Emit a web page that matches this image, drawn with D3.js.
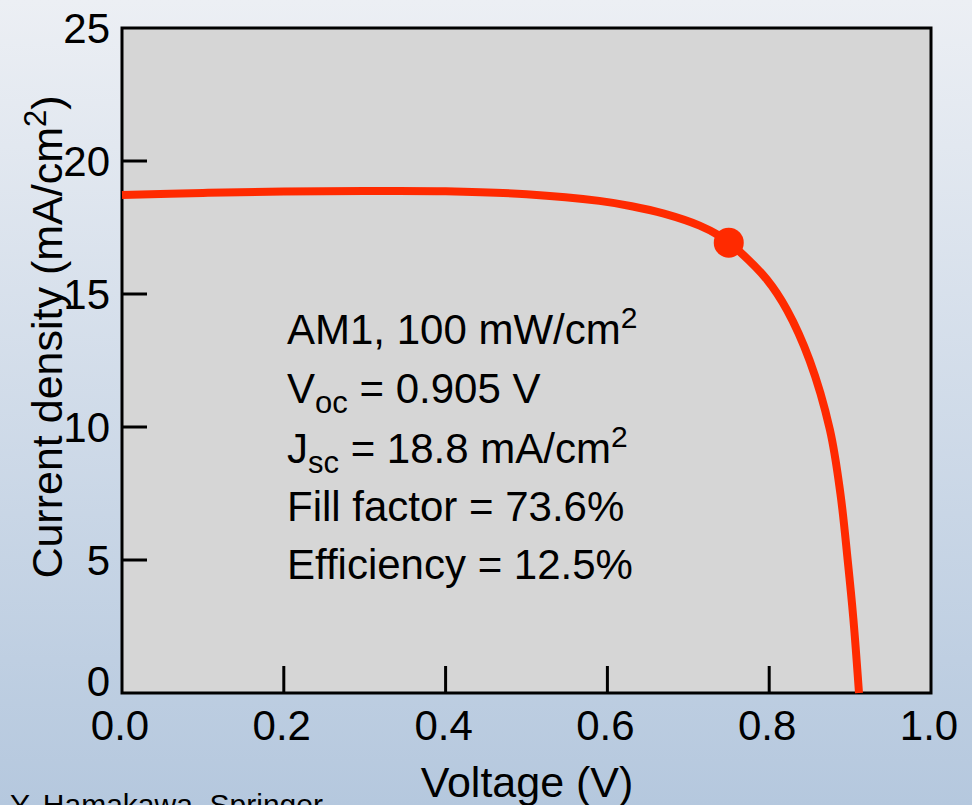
<!DOCTYPE html>
<html>
<head>
<meta charset="utf-8">
<script src="https://cdn.jsdelivr.net/npm/d3@7"></script>
<style>
  body { margin: 0; }
  svg { display: block; font-family: "Liberation Sans", Arial, sans-serif; }
</style>
</head>
<body>
<svg class="chart"></svg>
<script>
var W = 972;
var H = 805;

var LEFT = 122, RIGHT = 931, TOP = 28, BOTTOM = 693;

// J-V curve
var voltage = [0.00, 0.10, 0.20, 0.30, 0.40, 0.50, 0.59, 0.63, 0.67, 0.714, 0.739, 0.75, 0.764, 0.797, 0.822, 0.850, 0.875, 0.888, 0.897, 0.904, 0.911];
var current = [18.72, 18.80, 18.85, 18.87, 18.86, 18.75, 18.50, 18.30, 18.02, 17.57, 17.18, 16.93, 16.58, 15.55, 14.4, 12.5, 9.9, 7.5, 5.0, 2.8, 0];

// max power point
var mppV = [0.75];
var mppJ = [16.93];

var xTicks = [0, 0.2, 0.4, 0.6, 0.8, 1.0];
var yTicks = [0, 5, 10, 15, 20, 25];

var svg = d3.select(".chart").attr("width", W).attr("height", H);

var grad = svg.append("defs").append("linearGradient")
    .attr("id", "bg").attr("x1", 0).attr("y1", 0).attr("x2", 0).attr("y2", 1);
grad.append("stop").attr("offset", "0%").attr("stop-color", "#eceff4");
grad.append("stop").attr("offset", "100%").attr("stop-color", "#b5c8de");

svg.append("rect").attr("width", W).attr("height", H).attr("fill", "url(#bg)");

var x = d3.scaleLinear().domain([0, 1]).range([LEFT, RIGHT]);
var y = d3.scaleLinear().domain([0, 25]).range([BOTTOM, TOP]);

svg.append("rect")
    .attr("x", LEFT).attr("y", TOP)
    .attr("width", RIGHT - LEFT).attr("height", BOTTOM - TOP)
    .attr("fill", "#d6d6d6")
    .attr("stroke", "#000").attr("stroke-width", 3);

// inward ticks
svg.selectAll(".xt").data(xTicks.slice(1, -1)).enter().append("line")
    .attr("x1", function(d) { return x(d); }).attr("x2", function(d) { return x(d); })
    .attr("y1", BOTTOM).attr("y2", BOTTOM - 27)
    .attr("stroke", "#000").attr("stroke-width", 3);

svg.selectAll(".yt").data(yTicks.slice(1, -1)).enter().append("line")
    .attr("x1", LEFT).attr("x2", LEFT + 25)
    .attr("y1", function(d) { return y(d); }).attr("y2", function(d) { return y(d); })
    .attr("stroke", "#000").attr("stroke-width", 3);

svg.selectAll(".xl").data(xTicks).enter().append("text")
    .attr("x", function(d) { return x(d) - 2; })
    .attr("y", 740)
    .attr("text-anchor", "middle")
    .attr("font-size", 42)
    .text(function(d) { return d.toFixed(1); });

// the 0 label sits a bit higher in the original, clear of the 0.0
svg.selectAll(".yl").data(yTicks).enter().append("text")
    .attr("x", 110)
    .attr("y", function(d) { return y(d) + (d === 0 ? 3 : 15); })
    .attr("text-anchor", "end")
    .attr("font-size", 42)
    .text(function(d) { return d; });

var line = d3.line()
    .x(function(d) { return x(d[0]); })
    .y(function(d) { return y(d[1]); })
    .curve(d3.curveCatmullRom.alpha(0.5));

svg.append("path")
    .datum(d3.zip(voltage, current))
    .attr("d", line)
    .attr("fill", "none")
    .attr("stroke", "#ff2a00")
    .attr("stroke-width", 8);

svg.selectAll(".mpp").data(d3.zip(mppV, mppJ)).enter().append("circle")
    .attr("cx", function(d) { return x(d[0]); })
    .attr("cy", function(d) { return y(d[1]); })
    .attr("r", 15)
    .attr("fill", "#ff2a00");

// annotation block
var note = svg.append("g").attr("font-size", 42).attr("fill", "#000");

var t1 = note.append("text").attr("x", 287).attr("y", 344);
t1.append("tspan").text("AM1, 100 mW/cm");
t1.append("tspan").attr("dy", -16).attr("font-size", 30).text("2");

var t2 = note.append("text").attr("x", 287).attr("y", 403);
t2.append("tspan").text("V");
t2.append("tspan").attr("dy", 10).attr("font-size", 31).text("oc");
t2.append("tspan").attr("dy", -10).text(" = 0.905 V");

var t3 = note.append("text").attr("x", 287).attr("y", 463);
t3.append("tspan").text("J");
t3.append("tspan").attr("dy", 10).attr("font-size", 31).text("sc");
t3.append("tspan").attr("dy", -10).text(" = 18.8 mA/cm");
t3.append("tspan").attr("dy", -16).attr("font-size", 30).text("2");

note.append("text").attr("x", 287).attr("y", 521).text("Fill factor = 73.6%");
note.append("text").attr("x", 287).attr("y", 579).text("Efficiency = 12.5%");

// axis titles
svg.append("text")
    .attr("x", 527).attr("y", 797)
    .attr("text-anchor", "middle")
    .attr("font-size", 43)
    .text("Voltage (V)");

var yt = svg.append("text")
    .attr("transform", "translate(62,337) rotate(-90)")
    .attr("text-anchor", "middle")
    .attr("font-size", 43);
yt.append("tspan").text("Current density (mA/cm");
yt.append("tspan").attr("dy", -16).attr("font-size", 31).text("2");
yt.append("tspan").attr("dy", 16).text(")");

svg.append("text")
    .attr("x", 10).attr("y", 815)
    .attr("font-size", 30)
    .text("Y. Hamakawa, Springer");
</script>
</body>
</html>
